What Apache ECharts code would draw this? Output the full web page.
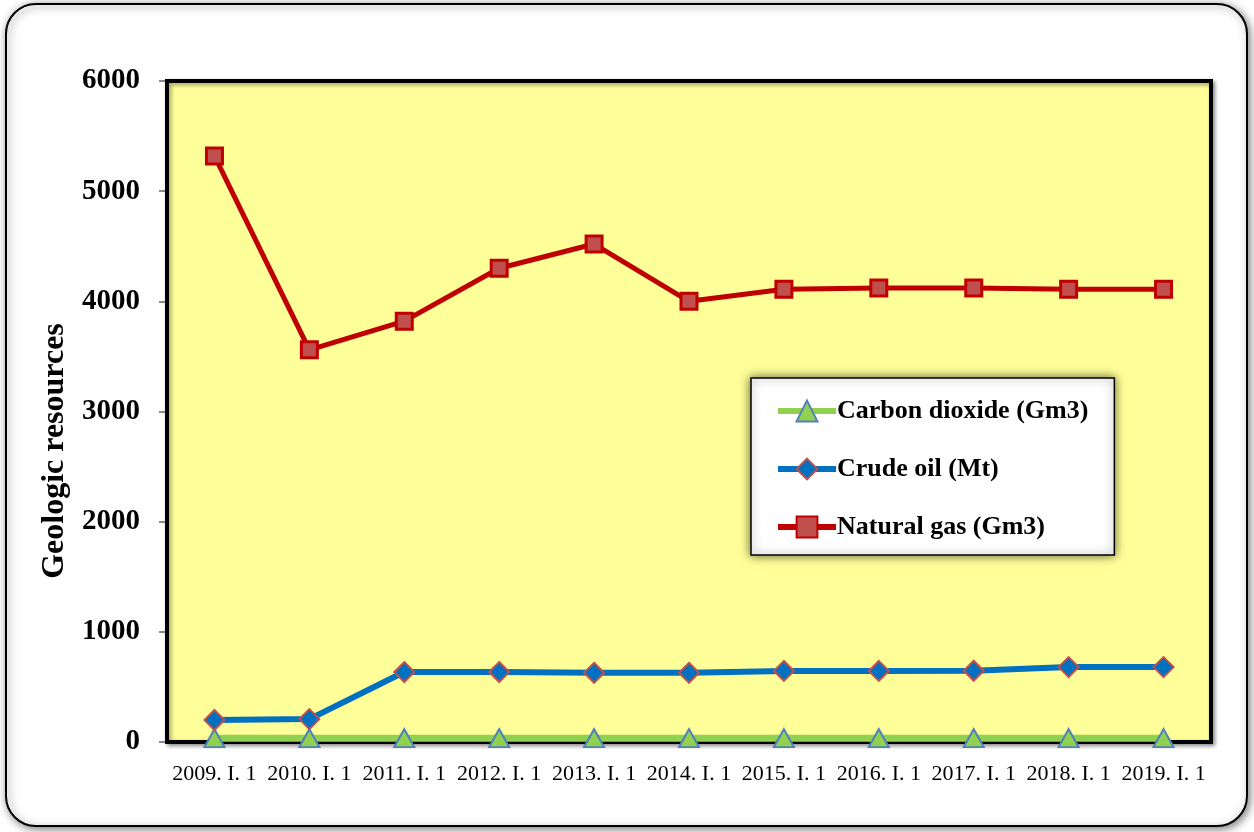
<!DOCTYPE html>
<html>
<head>
<meta charset="utf-8">
<script src="https://cdn.jsdelivr.net/npm/echarts@6/dist/echarts.min.js"></script>
<style>html,body{margin:0;padding:0;background:#fff;}#c{width:1254px;height:832px;}</style>
</head>
<body>
<div id="c"></div>
<script>
const categories = ['2009. I. 1','2010. I. 1','2011. I. 1','2012. I. 1','2013. I. 1','2014. I. 1','2015. I. 1','2016. I. 1','2017. I. 1','2018. I. 1','2019. I. 1'];
const carbonDioxide = [35,35,35,35,35,35,35,35,35,35,35];
const crudeOil = [200,208,635,635,628,628,645,645,647,680,680];
const naturalGas = [5320,3560,3820,4300,4520,4000,4110,4120,4120,4110,4110];
const yTicks = [0,1000,2000,3000,4000,5000,6000];
const yAxisTitle = 'Geologic resources';

const serif = '"Liberation Serif","Times New Roman",serif';
const chart = echarts.init(document.getElementById('c'));
chart.setOption({
  animation: false,
  backgroundColor: '#fff',
  graphic: [{
    type: 'rect', z: 0,
    shape: {x: 6, y: 4, width: 1241, height: 822, r: 30},
    style: {fill: '#fff', stroke: '#000', lineWidth: 2, shadowBlur: 8, shadowColor: 'rgba(0,0,0,0.5)', shadowOffsetX: 2, shadowOffsetY: 2}
  }, {
    type: 'text', z: 10,
    x: 55, y: 451, rotation: Math.PI / 2,
    style: {text: yAxisTitle, fontFamily: serif, fontWeight: 'bold', fontSize: 32, fill: '#000', align: 'center', verticalAlign: 'middle'}
  }],
  grid: {
    left: 167, right: 43, top: 81, bottom: 90,
    show: true, backgroundColor: '#FFFF99', borderColor: '#000', borderWidth: 4,
    shadowBlur: 4, shadowColor: 'rgba(0,0,0,0.4)', shadowOffsetX: 2, shadowOffsetY: 2,
    z: 2
  },
  legend: {
    orient: 'vertical',
    left: 751, top: 378,
    padding: [20, 26, 15, 24],
    itemWidth: 58, itemHeight: 26,
    itemGap: 32,
    backgroundColor: '#fff',
    borderColor: '#000', borderWidth: 1.5,
    shadowBlur: 10, shadowColor: 'rgba(0,0,0,0.6)',
    lineStyle: {width: 6},
    textStyle: {fontFamily: serif, fontWeight: 'bold', fontSize: 26, lineHeight: 26, color: '#000', padding: [0,0,0,-4]},
    data: ['Carbon dioxide (Gm3)', 'Crude oil (Mt)', 'Natural gas (Gm3)']
  },
  xAxis: {
    type: 'category',
    data: categories,
    boundaryGap: true,
    axisLine: {show: false},
    axisTick: {show: false},
    axisLabel: {fontFamily: serif, fontSize: 22, color: '#000', margin: 21, interval: 0}
  },
  yAxis: {
    type: 'value',
    min: 0, max: 6000, interval: 1000,
    axisLine: {show: false},
    axisTick: {show: true, length: 8, lineStyle: {color: '#666', width: 1.5}},
    axisLabel: {fontFamily: serif, fontWeight: 'bold', fontSize: 29, color: '#000', margin: 27,
      formatter: v => yTicks.includes(v) ? String(v) : ''},
    splitLine: {lineStyle: {color: '#808080', width: 1}}
  },
  series: [
    {
      name: 'Carbon dioxide (Gm3)', type: 'line', data: carbonDioxide, z: 3,
      symbol: 'triangle', symbolSize: [20, 18],
      lineStyle: {color: '#92D050', width: 7},
      itemStyle: {color: '#92D050', borderColor: '#4F81BD', borderWidth: 2}
    },
    {
      name: 'Crude oil (Mt)', type: 'line', data: crudeOil, z: 4,
      symbol: 'diamond', symbolSize: 20,
      lineStyle: {color: '#0070C0', width: 6},
      itemStyle: {color: '#0070C0', borderColor: '#C0504D', borderWidth: 2}
    },
    {
      name: 'Natural gas (Gm3)', type: 'line', data: naturalGas, z: 5,
      symbol: 'rect', symbolSize: 16,
      lineStyle: {color: '#C00000', width: 5},
      itemStyle: {color: '#C0504D', borderColor: '#C00000', borderWidth: 3}
    }
  ]
});
</script>
</body>
</html>
